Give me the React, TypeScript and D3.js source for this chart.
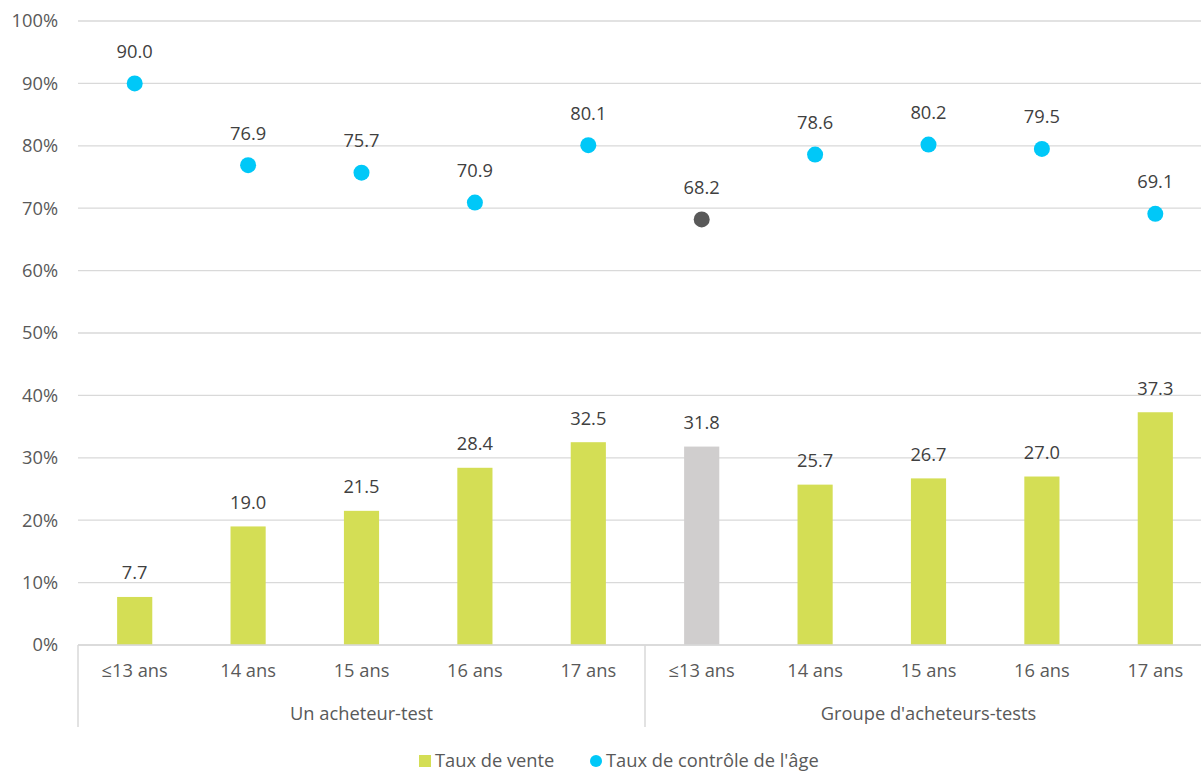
import React from "react";
import * as d3 from "d3";

// Categories (age groups) and their outer grouping
const ageLabels = ["≤13 ans", "14 ans", "15 ans", "16 ans", "17 ans", "≤13 ans", "14 ans", "15 ans", "16 ans", "17 ans"];
const groupNames = ["Un acheteur-test", "Groupe d'acheteurs-tests"];
const groupSizes = [5, 5];

// Series values (%)
const salesRate = [7.7, 19.0, 21.5, 28.4, 32.5, 31.8, 25.7, 26.7, 27.0, 37.3];
const ageCheckRate = [90.0, 76.9, 75.7, 70.9, 80.1, 68.2, 78.6, 80.2, 79.5, 69.1];
// Highlighted (grey) entry indices
const highlighted = [5];

const yTicks = [0, 10, 20, 30, 40, 50, 60, 70, 80, 90, 100];

const legendItems = ["Taux de vente", "Taux de contrôle de l'âge"];

const W = 1201;
const H = 771;
const plotLeft = 78;
const plotRight = 1212;
const plotTop = 21;
const plotBottom = 645;

const GREEN = "#D4DE55";
const BLUE = "#00C8F8";
const GREY_BAR = "#D0CECE";
const GREY_DOT = "#595959";
const GRID = "#D9D9D9";
const AXIS_TEXT = "#595959";
const LABEL_TEXT = "#404040";
const FONT = "'Open Sans', sans-serif";
const FS = 18.3;

export default function App() {
  const idx = ageLabels.map((_, i) => String(i));
  const x = d3.scaleBand<string>().domain(idx).range([plotLeft, plotRight]).paddingInner(0).paddingOuter(0);
  const y = d3.scaleLinear().domain([0, 100]).range([plotBottom, plotTop]);
  const barW = x.bandwidth() * 0.31;
  const fmt = d3.format(".1f");

  // group boundaries
  const bounds: number[] = [plotLeft];
  let acc = 0;
  groupSizes.forEach((s) => {
    acc += s;
    bounds.push(x(String(acc - 1))! + x.bandwidth());
  });

  return (
    <svg width={W} height={H} style={{ display: "block", position: "absolute", left: 0, top: 0, background: "#fff" }}>
      {/* gridlines */}
      {yTicks.map((t) => (
        <line key={t} x1={plotLeft} x2={plotRight} y1={y(t)} y2={y(t)} stroke={GRID} strokeWidth={1.3} />
      ))}
      {/* y tick labels */}
      {yTicks.map((t) => (
        <text key={"yl" + t} x={58} y={y(t)} dy="0.35em" textAnchor="end" fontFamily={FONT} fontSize={FS} fill={AXIS_TEXT}>
          {t}%
        </text>
      ))}
      {/* bars */}
      {salesRate.map((v, i) => {
        const cx = x(String(i))! + x.bandwidth() / 2;
        return (
          <g key={"b" + i}>
            <rect
              x={cx - barW / 2}
              y={y(v)}
              width={barW}
              height={y(0) - y(v)}
              fill={highlighted.includes(i) ? GREY_BAR : GREEN}
            />
            <text x={cx} y={y(v) - 24} dy="0.35em" textAnchor="middle" fontFamily={FONT} fontSize={FS} fill={LABEL_TEXT}>
              {fmt(v)}
            </text>
          </g>
        );
      })}
      {/* dots */}
      {ageCheckRate.map((v, i) => {
        const cx = x(String(i))! + x.bandwidth() / 2;
        return (
          <g key={"d" + i}>
            <circle cx={cx} cy={y(v)} r={8} fill={highlighted.includes(i) ? GREY_DOT : BLUE} />
            <text x={cx} y={y(v) - 32} dy="0.35em" textAnchor="middle" fontFamily={FONT} fontSize={FS} fill={LABEL_TEXT}>
              {fmt(v)}
            </text>
          </g>
        );
      })}
      {/* category axis */}
      <line x1={plotLeft} x2={plotRight} y1={plotBottom} y2={plotBottom} stroke={GRID} strokeWidth={1.5} />
      {bounds.map((b, i) => (
        <line key={"sep" + i} x1={b} x2={b} y1={plotBottom} y2={727} stroke={GRID} strokeWidth={1.5} />
      ))}
      {ageLabels.map((l, i) => (
        <text
          key={"c" + i}
          x={x(String(i))! + x.bandwidth() / 2}
          y={671}
          dy="0.35em"
          textAnchor="middle"
          fontFamily={FONT}
          fontSize={FS}
          fill={AXIS_TEXT}
        >
          {l}
        </text>
      ))}
      {groupNames.map((g, i) => (
        <text
          key={"g" + i}
          x={(bounds[i] + bounds[i + 1]) / 2}
          y={714}
          dy="0.35em"
          textAnchor="middle"
          fontFamily={FONT}
          fontSize={FS}
          fill={AXIS_TEXT}
        >
          {g}
        </text>
      ))}
      {/* legend */}
      <g>
        <rect x={419} y={755} width={12} height={12} fill={GREEN} />
        <text x={435} y={761} dy="0.35em" fontFamily={FONT} fontSize={FS} fill={AXIS_TEXT}>
          {legendItems[0]}
        </text>
        <circle cx={596} cy={761} r={6} fill={BLUE} />
        <text x={606} y={761} dy="0.35em" fontFamily={FONT} fontSize={FS} fill={AXIS_TEXT}>
          {legendItems[1]}
        </text>
      </g>
    </svg>
  );
}
